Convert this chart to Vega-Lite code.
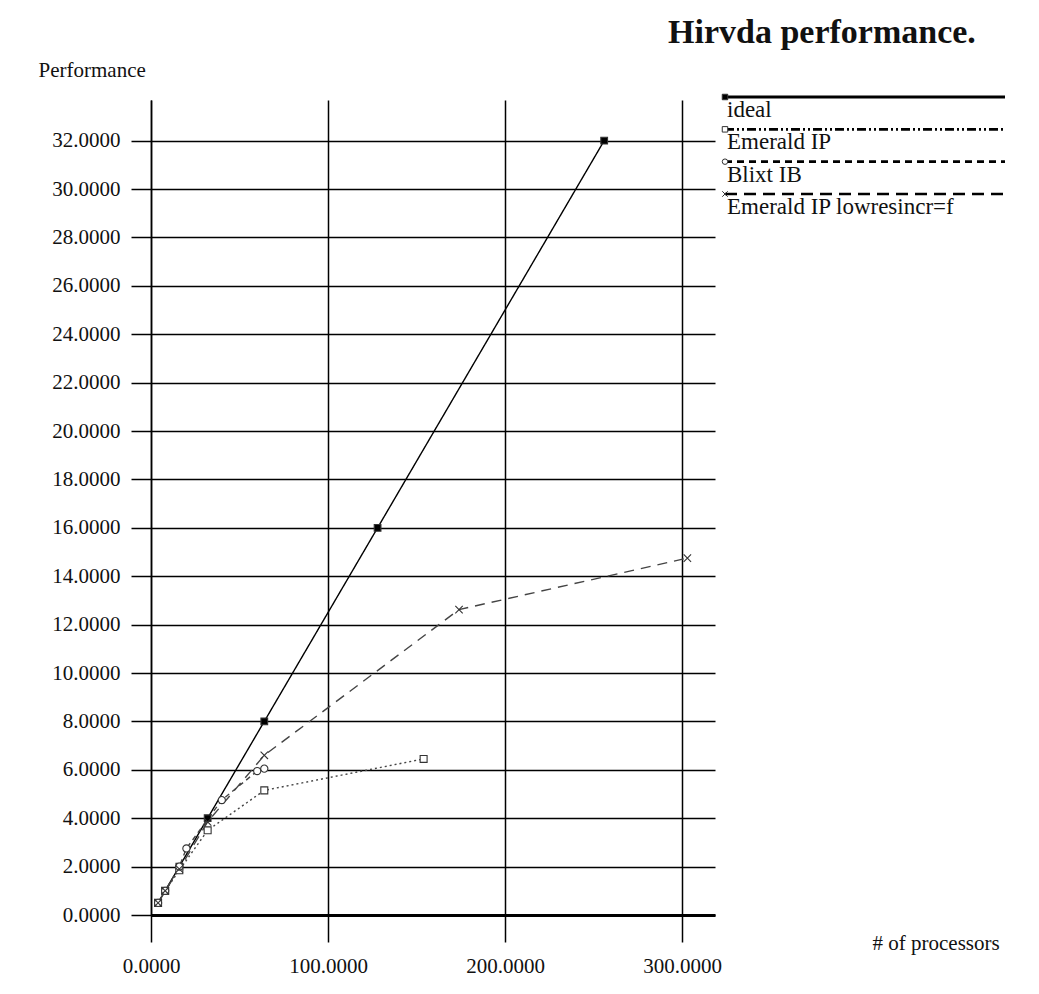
{
  "$schema": "https://vega.github.io/schema/vega-lite/v6.json",
  "width": 564,
  "height": 815,
  "autosize": {"type": "none"},
  "padding": {"left": 151, "top": 100, "right": 324, "bottom": 79},
  "background": "white",
  "config": {"view": {"stroke": null}, "font": "Liberation Serif", "text": {"font": "Liberation Serif"}, "mark": {"font": "Liberation Serif"}},
  "title": {
    "text": "Hirvda performance.",
    "frame": "group",
    "anchor": "start",
    "dx": 517,
    "offset": 9,
    "font": "Liberation Serif",
    "fontSize": 34,
    "fontWeight": "bold",
    "color": "#111"
  },
  "datasets": {
    "perf": [
      {"series": "ideal", "procs": 4, "perf": 0.5},
      {"series": "ideal", "procs": 8, "perf": 1},
      {"series": "ideal", "procs": 16, "perf": 2},
      {"series": "ideal", "procs": 32, "perf": 4},
      {"series": "ideal", "procs": 64, "perf": 8},
      {"series": "ideal", "procs": 128, "perf": 16},
      {"series": "ideal", "procs": 256, "perf": 32},
      {"series": "Emerald IP", "procs": 4, "perf": 0.5},
      {"series": "Emerald IP", "procs": 8, "perf": 1.0},
      {"series": "Emerald IP", "procs": 16, "perf": 1.85},
      {"series": "Emerald IP", "procs": 32, "perf": 3.5},
      {"series": "Emerald IP", "procs": 64, "perf": 5.15},
      {"series": "Emerald IP", "procs": 154, "perf": 6.45},
      {"series": "Blixt IB", "procs": 4, "perf": 0.5},
      {"series": "Blixt IB", "procs": 8, "perf": 1.0},
      {"series": "Blixt IB", "procs": 16, "perf": 2.0},
      {"series": "Blixt IB", "procs": 20, "perf": 2.75},
      {"series": "Blixt IB", "procs": 40, "perf": 4.75},
      {"series": "Blixt IB", "procs": 60, "perf": 5.95},
      {"series": "Blixt IB", "procs": 64, "perf": 6.05},
      {"series": "Emerald IP lowresincr=f", "procs": 4, "perf": 0.5},
      {"series": "Emerald IP lowresincr=f", "procs": 8, "perf": 1.0},
      {"series": "Emerald IP lowresincr=f", "procs": 16, "perf": 1.9},
      {"series": "Emerald IP lowresincr=f", "procs": 32, "perf": 3.85},
      {"series": "Emerald IP lowresincr=f", "procs": 64, "perf": 6.6},
      {"series": "Emerald IP lowresincr=f", "procs": 174, "perf": 12.62},
      {"series": "Emerald IP lowresincr=f", "procs": 303, "perf": 14.75}
    ],
    "legend": [
      {"series": "ideal"},
      {"series": "Emerald IP"},
      {"series": "Blixt IB"},
      {"series": "Emerald IP lowresincr=f"}
    ]
  },
  "layer": [
    {
      "data": {"name": "perf"},
      "encoding": {
        "x": {
          "field": "procs",
          "type": "quantitative",
          "scale": {"domain": [0, 318.6], "nice": false, "zero": false},
          "axis": {
            "values": [0, 100, 200, 300],
            "format": ".4f",
            "grid": true,
            "gridColor": "#000",
            "gridWidth": 1.5,
            "gridOpacity": 1,
            "domain": true,
            "domainColor": "#000",
            "domainWidth": 3,
            "ticks": true,
            "tickColor": "#000",
            "tickWidth": 1.5,
            "tickSize": 27,
            "labelFont": "Liberation Serif",
            "labelFontSize": 21,
            "labelColor": "#111",
            "labelPadding": 13,
            "labelFlush": false,
            "labelOverlap": false,
            "title": "# of processors",
            "titleFont": "Liberation Serif",
            "titleFontSize": 21,
            "titleFontWeight": "normal",
            "titleColor": "#111",
            "titleX": 721,
            "titleY": 28,
            "titleAlign": "left",
            "titleBaseline": "middle"
          }
        },
        "y": {
          "field": "perf",
          "type": "quantitative",
          "scale": {"domain": [0, 33.68], "nice": false, "zero": false},
          "axis": {
            "values": [0, 2, 4, 6, 8, 10, 12, 14, 16, 18, 20, 22, 24, 26, 28, 30, 32],
            "format": ".4f",
            "grid": true,
            "gridColor": "#000",
            "gridWidth": 1.5,
            "gridOpacity": 1,
            "domain": true,
            "domainColor": "#000",
            "domainWidth": 1.5,
            "ticks": true,
            "tickColor": "#000",
            "tickWidth": 1.5,
            "tickSize": 20,
            "labelFont": "Liberation Serif",
            "labelFontSize": 21,
            "labelColor": "#111",
            "labelPadding": 11,
            "labelOverlap": false,
            "title": "Performance",
            "titleFont": "Liberation Serif",
            "titleFontSize": 21,
            "titleFontWeight": "normal",
            "titleColor": "#111",
            "titleAngle": 0,
            "titleX": -113,
            "titleY": -30,
            "titleAlign": "left",
            "titleBaseline": "middle"
          }
        }
      },
      "layer": [
        {
          "mark": {"type": "line", "strokeWidth": 1.4},
          "encoding": {
            "strokeDash": {
              "field": "series",
              "type": "nominal",
              "scale": {
                "domain": ["ideal", "Emerald IP", "Blixt IB", "Emerald IP lowresincr=f"],
                "range": [[1, 0], [2, 3], [5, 4], [10, 7]]
              },
              "legend": null
            },
            "stroke": {
              "field": "series",
              "type": "nominal",
              "scale": {
                "domain": ["ideal", "Emerald IP", "Blixt IB", "Emerald IP lowresincr=f"],
                "range": ["#000000", "#444444", "#444444", "#444444"]
              },
              "legend": null
            }
          }
        },
        {
          "mark": {"type": "point", "filled": true, "stroke": "#333", "strokeWidth": 1.1, "opacity": 1},
          "encoding": {
            "shape": {
              "field": "series",
              "type": "nominal",
              "scale": {
                "domain": ["ideal", "Emerald IP", "Blixt IB", "Emerald IP lowresincr=f"],
                "range": ["square", "square", "circle", "M-1,-1L1,1M-1,1L1,-1"]
              },
              "legend": null
            },
            "fill": {
              "field": "series",
              "type": "nominal",
              "scale": {
                "domain": ["ideal", "Emerald IP", "Blixt IB", "Emerald IP lowresincr=f"],
                "range": ["#000000", "#ffffff", "#ffffff", "#ffffff"]
              },
              "legend": null
            },
            "size": {
              "field": "series",
              "type": "ordinal",
              "scale": {
                "domain": ["ideal", "Emerald IP", "Blixt IB", "Emerald IP lowresincr=f"],
                "range": [45, 55, 28, 28]
              },
              "legend": null
            }
          }
        }
      ]
    },
    {
      "data": {"name": "legend"},
      "encoding": {
        "y": {
          "field": "series",
          "type": "nominal",
          "sort": null,
          "scale": {
            "type": "point",
            "domain": ["ideal", "Emerald IP", "Blixt IB", "Emerald IP lowresincr=f"],
            "range": [-3, 94],
            "padding": 0
          },
          "axis": null
        }
      },
      "layer": [
        {
          "mark": {"type": "rule", "stroke": "#000"},
          "encoding": {
            "x": {"datum": 0, "type": "quantitative", "scale": {"domain": [0, 1], "range": [574, 854]}, "axis": null},
            "x2": {"datum": 1},
            "strokeDash": {
              "field": "series",
              "type": "nominal",
              "scale": {
                "domain": ["ideal", "Emerald IP", "Blixt IB", "Emerald IP lowresincr=f"],
                "range": [[1, 0], [9, 3, 2, 3, 2, 3], [7, 5], [12, 7]]
              },
              "legend": null
            },
            "strokeWidth": {
              "field": "series",
              "type": "ordinal",
              "scale": {
                "domain": ["ideal", "Emerald IP", "Blixt IB", "Emerald IP lowresincr=f"],
                "range": [3, 2.5, 2.5, 2.5]
              },
              "legend": null
            }
          }
        },
        {
          "mark": {"type": "point", "filled": true, "stroke": "#333", "strokeWidth": 1, "opacity": 1},
          "encoding": {
            "x": {"datum": 0, "type": "quantitative"},
            "shape": {"field": "series", "type": "nominal", "legend": null},
            "fill": {"field": "series", "type": "nominal", "legend": null}
          }
        },
        {
          "mark": {
            "type": "text",
            "align": "left",
            "baseline": "alphabetic",
            "dx": 2,
            "dy": 20,
            "font": "Liberation Serif",
            "fontStyle": "normal",
            "fontWeight": "normal",
            "fontSize": 23,
            "color": "#111"
          },
          "encoding": {
            "x": {"datum": 0, "type": "quantitative"},
            "text": {"field": "series", "type": "nominal"}
          }
        }
      ]
    }
  ],
  "resolve": {
    "scale": {"x": "independent", "y": "independent", "strokeDash": "independent"}
  }
}
